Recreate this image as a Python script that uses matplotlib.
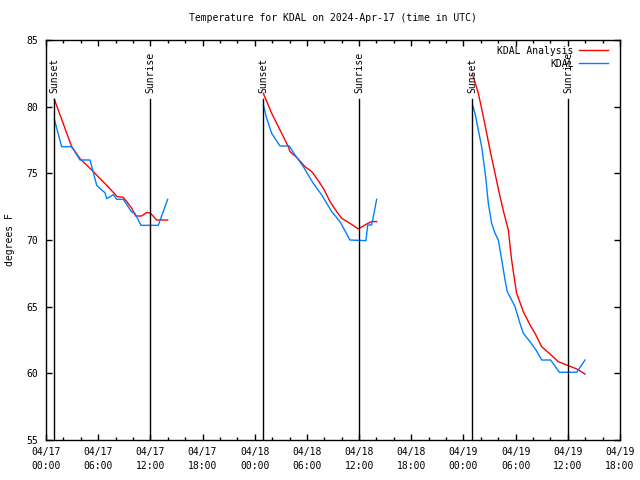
import matplotlib
matplotlib.use("Agg")
import matplotlib.pyplot as plt
import matplotlib.dates as mdates
from matplotlib.ticker import FixedLocator
import pandas as pd

plt.rcParams['font.family'] = ['DejaVu Sans Mono']
plt.rcParams['font.size'] = 7

START = pd.Timestamp("2024-04-17 00:00")

# hours since 04/17 00:00 UTC
analysis_h = [
    [0.96, 2.0, 2.95, 3.91, 5.25, 6.98, 8.2, 8.89, 9.85, 10.31, 11.0, 11.58, 12.03, 12.72, 13.99],
    [24.99, 25.95, 26.91, 27.86, 28.06, 28.82, 29.78, 30.55, 31.12, 31.89, 32.66, 33.42, 34.0,
     34.95, 35.91, 36.87, 37.45, 38.02],
    [49.06, 49.71, 50.21, 50.67, 51.13, 51.63, 52.12, 52.66, 53.16, 53.54, 53.93, 54.12, 54.88,
     55.65, 56.23, 56.99, 57.95, 58.9, 60.05, 61.02, 61.98],
]
analysis_t = [
    [80.55, 78.7, 77.0, 76.1, 75.25, 74.1, 73.25, 73.2, 72.4, 71.8, 71.8, 72.07, 72.0, 71.5, 71.5],
    [81.0, 79.5, 78.25, 77.0, 76.63, 76.2, 75.5, 75.13, 74.63, 73.88, 72.88, 72.13, 71.63,
     71.25, 70.83, 71.2, 71.38, 71.38],
    [82.4, 81.0, 79.5, 78.0, 76.5, 75.0, 73.5, 72.0, 70.75, 68.5, 66.75, 66.0, 64.63,
     63.63, 63.0, 62.0, 61.45, 60.88, 60.58, 60.33, 59.95],
]
obs_h = [
    [0.96, 1.8, 2.95, 3.91, 5.06, 5.83, 6.4, 6.78, 6.98, 7.74, 8.13, 8.89, 9.85, 10.23, 10.92,
     12.91, 13.99],
    [24.99, 25.37, 25.95, 26.91, 27.98, 28.63, 29.59, 30.73, 31.7, 32.85, 33.8, 34.95, 36.79,
     36.99, 37.45, 38.02],
    [49.06, 49.33, 49.71, 50.09, 50.4, 50.59, 50.86, 51.24, 51.63, 52.01, 52.4, 52.78, 53.04,
     53.54, 53.93, 54.5, 54.88, 55.65, 56.34, 56.99, 58.03, 59.02, 61.02, 61.98],
]
obs_t = [
    [79.05, 77.0, 77.0, 76.0, 76.0, 74.1, 73.75, 73.55, 73.1, 73.4, 73.05, 73.05, 72.1, 72.0, 71.1,
     71.1, 73.05],
    [80.13, 79.13, 78.0, 77.05, 77.05, 76.38, 75.5, 74.25, 73.38, 72.13, 71.38, 70.0, 69.95,
     71.13, 71.13, 73.05],
    [80.1, 79.5, 78.25, 77.0, 75.5, 74.5, 72.75, 71.25, 70.5, 70.0, 68.5, 67.0, 66.13,
     65.5, 65.0, 63.75, 63.0, 62.38, 61.75, 61.0, 61.0, 60.08, 60.08, 61.0],
]
sunset_h = [0.96, 24.99, 49.02]
sunrise_h = [11.96, 35.99, 60.02]

x_min_h, x_max_h = 0, 66
y_ticks = [55, 60, 65, 70, 75, 80, 85]

def to_dt(hours):
    return [START + pd.Timedelta(hours=h) for h in hours]

fig = plt.figure(figsize=(6.4, 4.8), dpi=100)
ax = fig.add_axes([46/640, 40/480, 574/640, 400/480])

for i, (h, t) in enumerate(zip(analysis_h, analysis_t)):
    ax.plot(to_dt(h), t, color='#ff0000', lw=1.0, label='KDAL Analysis' if i == 0 else None)
for i, (h, t) in enumerate(zip(obs_h, obs_t)):
    ax.plot(to_dt(h), t, color='#0080ff', lw=1.0, label='KDAL' if i == 0 else None)

for name, hrs in (("Sunset", sunset_h), ("Sunrise", sunrise_h)):
    for h in hrs:
        d = START + pd.Timedelta(hours=h)
        ax.axvline(d, ymin=0, ymax=0.8525, color='black', lw=1.0)
        ax.text(d, 0.868, name, rotation=90, ha='center', va='bottom',
                transform=ax.get_xaxis_transform(), fontsize=7)

ax.set_xlim(START + pd.Timedelta(hours=x_min_h), START + pd.Timedelta(hours=x_max_h))
ax.set_ylim(55, 85)
ax.set_yticks(y_ticks)
ax.xaxis.set_major_locator(mdates.HourLocator(byhour=[0, 6, 12, 18]))
ax.xaxis.set_minor_locator(mdates.HourLocator(byhour=list(range(0, 24, 2))))
ax.xaxis.set_major_formatter(mdates.DateFormatter('%m/%d\n%H:%M'))
ax.yaxis.set_minor_locator(FixedLocator([]))

ax.tick_params(which='both', direction='in', top=True, right=True, width=1.0)
ax.tick_params(which='major', length=4.3, labelsize=7)
ax.tick_params(axis='x', which='major', pad=5)
ax.tick_params(axis='y', which='major', pad=6)
ax.tick_params(which='minor', length=2.2)
fig.canvas.draw()
for lab in ax.get_xticklabels():
    lab.set_horizontalalignment('center')
    lab.set_linespacing(1.45)
for s in ax.spines.values():
    s.set_linewidth(1.0)

ax.set_ylabel('degrees F', fontsize=7, labelpad=8)
ax.set_title('Temperature for KDAL on 2024-Apr-17 (time in UTC)', fontsize=7, pad=14)

ax.legend(loc='upper right', frameon=False, markerfirst=False, handlelength=3.0,
          fontsize=7, labelspacing=0.3, borderaxespad=0.2, handletextpad=0.6,
          bbox_to_anchor=(0.99, 1.0))

fig.savefig('out.png', dpi=100)
